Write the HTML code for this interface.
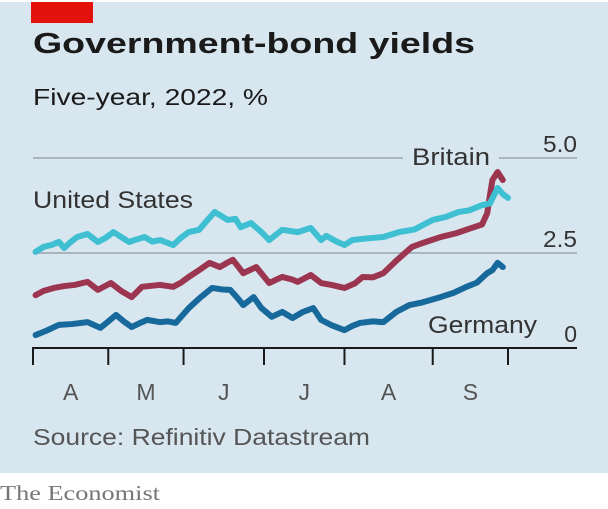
<!DOCTYPE html>
<html><head><meta charset="utf-8"><style>
html,body{margin:0;padding:0;background:#fff;}
svg{display:block;font-family:"Liberation Sans",sans-serif;}
</style></head><body>
<svg width="608" height="509" viewBox="0 0 608 509">
<rect x="0" y="2" width="608" height="471" fill="#d7e6ef"/>
<rect x="31" y="2" width="62" height="21" fill="#e3120b"/>
<text x="33" y="53" font-size="29" font-weight="bold" fill="#1a1a1a" textLength="442" lengthAdjust="spacingAndGlyphs">Government-bond yields</text>
<text x="33" y="105" font-size="23" fill="#1a1a1a" textLength="235" lengthAdjust="spacingAndGlyphs">Five-year, 2022, %</text>
<g id="grid"></g>
<g id="series"></g>
<g id="axis"></g>
<text x="33" y="445" font-size="23" fill="#555" textLength="337" lengthAdjust="spacingAndGlyphs">Source: Refinitiv Datastream</text>
<text x="0" y="500" font-size="21" fill="#777" font-family="Liberation Serif,serif" textLength="160" lengthAdjust="spacingAndGlyphs">The Economist</text>
</svg>
<script>
const usDays=[1,4,7,10,12,14,17,21,25,28,31,34,37,40,43,46,49,54,57,60,64,67,70,75,78,80,84,88,91,96,102,107,111,113,117,120,123,128,135,141,147,154,159,164,168,173,176,179,181,183];
const usVals=[2.53,2.66,2.71,2.79,2.63,2.76,2.92,3.00,2.79,2.90,3.05,2.92,2.79,2.86,2.92,2.80,2.84,2.71,2.90,3.05,3.11,3.35,3.58,3.37,3.40,3.18,3.29,3.05,2.84,3.11,3.05,3.16,2.84,2.95,2.80,2.71,2.84,2.88,2.92,3.05,3.12,3.37,3.45,3.58,3.62,3.76,3.80,4.21,4.05,3.95];
const ukDays=[1,4,8,12,16,21,25,30,34,38,42,46,49,54,57,60,64,68,72,75,77,81,86,91,96,100,102,107,111,115,120,124,127,131,135,140,146,150,157,163,169,173,175,176,177,179,181];
const ukVals=[1.39,1.50,1.58,1.63,1.66,1.74,1.53,1.71,1.50,1.34,1.61,1.64,1.66,1.61,1.72,1.87,2.05,2.24,2.13,2.25,2.32,1.97,2.13,1.71,1.87,1.80,1.74,1.92,1.71,1.66,1.58,1.70,1.87,1.86,1.97,2.30,2.66,2.76,2.92,3.02,3.16,3.25,3.55,4.00,4.42,4.63,4.42];
const deDays=[1,5,10,15,21,26,29,32,35,38,41,44,49,52,55,60,64,69,73,76,79,81,85,88,92,96,100,104,108,111,115,120,123,126,131,135,140,145,150,157,162,167,171,175,177,179,181];
const deVals=[0.34,0.45,0.61,0.63,0.68,0.53,0.70,0.87,0.70,0.55,0.65,0.74,0.68,0.70,0.66,1.05,1.30,1.58,1.54,1.53,1.30,1.13,1.34,1.05,0.82,0.95,0.79,0.95,1.05,0.74,0.60,0.47,0.58,0.66,0.70,0.68,0.95,1.13,1.20,1.34,1.45,1.61,1.72,1.97,2.05,2.24,2.13];
const yTicks=[0,2.5,5.0];
const yTickLabels=["0","2.5","5.0"];
const monthStarts=[0,29,58,89,120,154,183];
const monthLabels=["A","M","J","J","A","S"];
const NS="http://www.w3.org/2000/svg";
const x=d=>33+d*(475/183);
const y=v=>348-v*38;
function mk(tag,attrs,parent){const e=document.createElementNS(NS,tag);for(const k in attrs)e.setAttribute(k,attrs[k]);parent.appendChild(e);return e;}
const grid=document.getElementById('grid'),series=document.getElementById('series'),axis=document.getElementById('axis');
yTicks.forEach((t,i)=>{
  if(t>0){
    if(t===5){
      const a=mk('line',{x1:33,x2:403,y1:y(t),y2:y(t),stroke:'#aab6be','stroke-width':2},grid);
      
      
      const b=mk('line',{x1:499,x2:577,y1:y(t),y2:y(t),stroke:'#aab6be','stroke-width':2},grid);
      
      
    } else {
      const g=mk('line',{x1:33,x2:577,y1:y(t),y2:y(t),stroke:'#aab6be','stroke-width':2},grid);
      
      
    }
  }
  const tx=mk('text',{x:577,y:y(t)-6,'font-size':23,fill:'#333','text-anchor':'end'},grid);
  tx.textContent=yTickLabels[i];
  if(t>0){tx.setAttribute('textLength',34);tx.setAttribute('lengthAdjust','spacingAndGlyphs');}
  
  
});
function line(days,vals,color,name){
  const p=mk('polyline',{points:days.map((d,i)=>x(d)+','+y(vals[i])).join(' '),fill:'none',stroke:color,'stroke-width':6,'stroke-linejoin':'round','stroke-linecap':'round'},series);
  
  
}
line(deDays,deVals,'#17699c','germany-line');
line(ukDays,ukVals,'#9b3550','britain-line');
line(usDays,usVals,'#3ebfd2','united-states-line');
const lbls=[["United States",33,208,160,"us-label"],["Britain",412,165,78,"britain-label"],["Germany",428,333,109,"germany-label"]];
lbls.forEach(l=>{
  const t=mk('text',{x:l[1],y:l[2],'font-size':24,fill:'#333',textLength:l[3],lengthAdjust:'spacingAndGlyphs'},series);
  t.textContent=l[0];
  
  
});
const ax=mk('line',{x1:32,x2:577,y1:348,y2:348,stroke:'#1a1a1a','stroke-width':2},axis);


monthStarts.forEach(d=>{
  const t=mk('line',{x1:x(d),x2:x(d),y1:348,y2:365,stroke:'#1a1a1a','stroke-width':2},axis);
  
  
});
monthLabels.forEach((m,i)=>{
  const t=mk('text',{x:(x(monthStarts[i])+x(monthStarts[i+1]))/2,y:400,'font-size':23,fill:'#555','text-anchor':'middle'},axis);
  t.textContent=m;
  
  
});
</script>
</body></html>
